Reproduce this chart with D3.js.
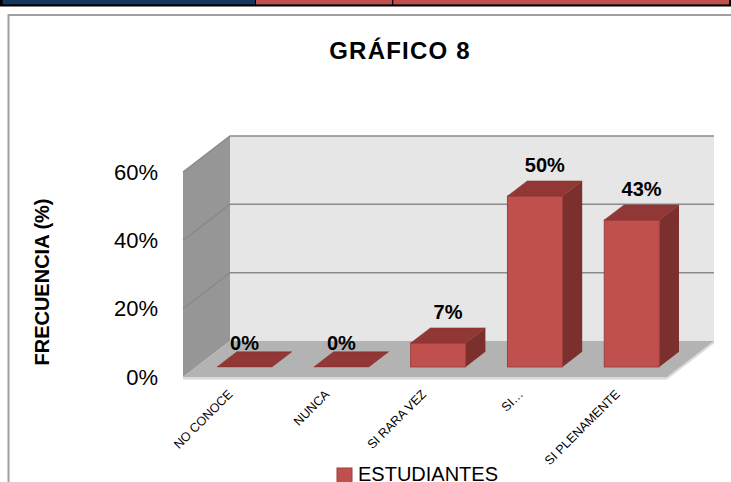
<!DOCTYPE html>
<meta charset="utf-8">
<style>
body { margin: 0; background: #fff; }
svg { display: block; font-family: "Liberation Sans", Arial, sans-serif; }
.wall-back { fill: #e6e6e6; }
.wall-side { fill: #969696; }
.floor { fill: #b3b3b3; }
.floor-edge { fill: #dadada; }
.grid { stroke: #8a8a8a; stroke-width: 1.5px; fill: none; }
.bar-front { fill: #c0504d; stroke: #9e3f3c; stroke-width: 1px; }
.bar-top { fill: #913735; stroke: #85322f; stroke-width: 0.5px; }
.bar-side { fill: #7c302e; }
.value { font-weight: bold; font-size: 20px; text-anchor: middle; fill: #000; }
.cat { font-size: 12.5px; fill: #000; }
</style>
<body>
<script src="https://d3js.org/d3.v7.min.js"></script>
<script>
var categories = ["NO CONOCE", "NUNCA", "SI RARA VEZ", "SI…", "SI PLENAMENTE"];
var values = [0, 0, 7, 50, 43];
var yTicks = [0, 20, 40, 60];
var seriesName = "ESTUDIANTES";

var width = 731, height = 482;

// 3d box: front floor edge, and depth offset
var x0 = 183, x1 = 667, yBase = 377, yTop = 172;
var depth = [47, -36];
var barFront = 0.28, barBack = 0.70; // bars sit in the middle of the depth

var svg = d3.select("body").append("svg")
    .attr("width", width)
    .attr("height", height);

// top strip
svg.append("rect").attr("x", 0).attr("y", 0).attr("width", width).attr("height", 6.5).attr("fill", "#000");
svg.append("rect").attr("x", 2.7).attr("y", 0).attr("width", 252.3).attr("height", 4.4).attr("fill", "#17365d");
svg.append("rect").attr("x", 256).attr("y", 0).attr("width", 136).attr("height", 4.4).attr("fill", "#c0504d");
svg.append("rect").attr("x", 393.3).attr("y", 0).attr("width", 335.7).attr("height", 4.4).attr("fill", "#c0504d");

// chart frame
svg.append("rect")
    .attr("x", 8.5).attr("y", 15)
    .attr("width", 800).attr("height", 600)
    .attr("fill", "#fff")
    .attr("stroke", "#a0a0a0")
    .attr("stroke-width", 2);

svg.append("text")
    .attr("x", 400).attr("y", 59)
    .attr("text-anchor", "middle")
    .style("font-weight", "bold")
    .style("font-size", "24px")
    .style("letter-spacing", "1.2px")
    .text("GRÁFICO 8");

var y = d3.scaleLinear().domain([0, 60]).range([yBase, yTop]);
var x = d3.scaleBand().domain(categories).range([x0, x1])
    .paddingInner(0.432).paddingOuter(0.216);

function off(t) { return [depth[0] * t, depth[1] * t]; }
function pts(a) { return a.map(function(p) { return p.join(","); }).join(" "); }

var g = svg.append("g");

// floor slab edge, floor, walls
var dB = off(1);
g.append("polygon").attr("class", "floor-edge")
    .attr("points", pts([[x0, yBase], [x1, yBase], [x1 + dB[0], yBase + dB[1]], [x1 + dB[0], yBase + dB[1] + 2.5], [x1, yBase + 2.5], [x0, yBase + 2.5]]));
g.append("polygon").attr("class", "wall-back")
    .attr("points", pts([[x0 + dB[0], y(60) + dB[1]], [x1 + dB[0], y(60) + dB[1]], [x1 + dB[0], yBase + dB[1]], [x0 + dB[0], yBase + dB[1]]]));
g.append("polygon").attr("class", "wall-side")
    .attr("points", pts([[x0, y(60)], [x0 + dB[0], y(60) + dB[1]], [x0 + dB[0], yBase + dB[1]], [x0, yBase]]));
g.append("polygon").attr("class", "floor")
    .attr("points", pts([[x0, yBase], [x0 + dB[0], yBase + dB[1]], [x1 + dB[0], yBase + dB[1]], [x1, yBase]]));

// gridlines on side and back wall
yTicks.filter(function(v) { return v > 0; }).forEach(function(v) {
  g.append("polyline").attr("class", "grid")
      .attr("points", pts([[x0, y(v)], [x0 + dB[0], y(v) + dB[1]], [x1 + dB[0], y(v) + dB[1]]]));
});

// bars
var df = off(barFront), db = off(barBack);
var bd = [db[0] - df[0], db[1] - df[1]];
var data = categories.map(function(c, i) { return { cat: c, v: values[i] }; });

var bars = g.selectAll(".bar").data(data).enter().append("g").attr("class", "bar");

bars.each(function(d) {
  var el = d3.select(this);
  var bx = x(d.cat) + df[0], bw = x.bandwidth();
  var yb = y(0) + df[1], yt = y(d.v) + df[1];
  if (d.v > 0) {
    el.append("polygon").attr("class", "bar-side")
        .attr("points", pts([[bx + bw, yt], [bx + bw + bd[0], yt + bd[1]], [bx + bw + bd[0], yb + bd[1]], [bx + bw, yb]]));
    el.append("rect").attr("class", "bar-front")
        .attr("x", bx).attr("y", yt).attr("width", bw).attr("height", yb - yt);
  }
  el.append("polygon").attr("class", "bar-top")
      .attr("points", pts([[bx, yt], [bx + bd[0], yt + bd[1]], [bx + bw + bd[0], yt + bd[1]], [bx + bw, yt]]));
  el.append("text").attr("class", "value")
      .attr("x", bx + bw / 2 + (d.v > 0 ? bd[0] / 2 : 0))
      .attr("y", yt - (d.v > 0 ? 24 : 17))
      .text(d.v + "%");
});

// y axis labels
var yAxis = svg.append("g")
    .attr("transform", "translate(" + x0 + ",0)")
    .call(d3.axisLeft(y).tickValues(yTicks).tickSize(0).tickPadding(25)
        .tickFormat(function(d) { return d + "%"; }));
yAxis.select(".domain").remove();
yAxis.selectAll("text")
    .style("font-family", "'Liberation Sans', Arial, sans-serif")
    .style("font-size", "22px")
    .attr("fill", "#000");

// category labels, rotated
svg.selectAll(".cat").data(categories).enter().append("text")
    .attr("class", "cat")
    .attr("text-anchor", "end")
    .attr("transform", function(c) {
      return "translate(" + (x(c) + x.bandwidth() / 2 + 2) + "," + 395 + ") rotate(-45)";
    })
    .text(function(c) { return c; });

// y axis title
svg.append("text")
    .attr("transform", "translate(49,282) rotate(-90)")
    .attr("text-anchor", "middle")
    .style("font-weight", "bold")
    .style("font-size", "20px")
    .text("FRECUENCIA (%)");

// legend
svg.append("rect")
    .attr("x", 337).attr("y", 468).attr("width", 15).attr("height", 15)
    .attr("fill", "#c0504d").attr("stroke", "#9e3f3c");
svg.append("text")
    .attr("x", 358).attr("y", 480.5)
    .style("font-size", "20px")
    .text(seriesName);
</script>
</body>
